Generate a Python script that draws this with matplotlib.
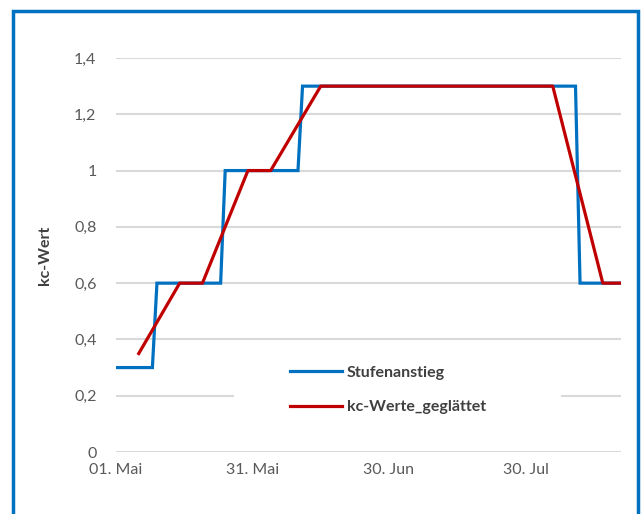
import matplotlib
matplotlib.use("Agg")
import matplotlib.pyplot as plt
from matplotlib.patches import Rectangle
import datetime as dt

# ---- data ----
step_dates = ["2023-05-01", "2023-05-09", "2023-05-10", "2023-05-24", "2023-05-25",
              "2023-06-10", "2023-06-11", "2023-08-10", "2023-08-11", "2023-08-20"]
step_values = [0.3, 0.3, 0.6, 0.6, 1.0, 1.0, 1.3, 1.3, 0.6, 0.6]

smooth_dates = ["2023-05-06", "2023-05-15", "2023-05-20", "2023-05-30", "2023-06-04",
                "2023-06-15", "2023-08-05", "2023-08-16", "2023-08-20"]
smooth_values = [0.35, 0.6, 0.6, 1.0, 1.0, 1.3, 1.3, 0.6, 0.6]

tick_dates = ["2023-05-01", "2023-05-31", "2023-06-30", "2023-07-30"]
tick_labels = ["01. Mai", "31. Mai", "30. Jun", "30. Jul"]
y_ticks = [0, 0.2, 0.4, 0.6, 0.8, 1.0, 1.2, 1.4]
y_labels = ["0", "0,2", "0,4", "0,6", "0,8", "1", "1,2", "1,4"]

series_names = ["Stufenanstieg", "kc-Werte_geglättet"]

def to_dt(lst):
    return [dt.datetime.strptime(s, "%Y-%m-%d") for s in lst]

plt.rcParams['font.family'] = ['Lato', 'DejaVu Sans']

W, H = 641, 514
fig = plt.figure(figsize=(W / 100, H / 100), dpi=100)
fig.patch.set_facecolor("white")

ax = fig.add_axes([116 / W, 1 - 452 / H, (621 - 116) / W, (452 - 58) / H])
ax.set_axisbelow(True)

l1, = ax.plot(to_dt(step_dates), step_values, color="#0070C0", lw=2.3,
              solid_joinstyle="miter", zorder=3)
l2, = ax.plot(to_dt(smooth_dates), smooth_values, color="#C00000", lw=2.3,
              solid_joinstyle="round", zorder=4)

ax.set_xlim(dt.datetime(2023, 5, 1), dt.datetime(2023, 8, 20))
ax.set_ylim(0, 1.4)
ax.set_yticks(y_ticks)
ax.set_yticklabels(y_labels)
ax.set_xticks(to_dt(tick_dates))
ax.set_xticklabels(tick_labels)
ax.yaxis.grid(True, color="#D9D9D9", lw=1.5)
ax.xaxis.grid(False)
for s in ax.spines.values():
    s.set_visible(False)
ax.tick_params(axis="both", length=0, colors="#595959", labelsize=11.5)
ax.tick_params(axis="y", pad=14)
ax.tick_params(axis="x", pad=8)
ax.set_ylabel("kc-Wert", fontsize=11.5, fontweight="bold", color="#404040", labelpad=16)

# white legend box covering gridline
box = Rectangle((234 / W, 1 - 422 / H), (561 - 234) / W, (422 - 350) / H,
                transform=fig.transFigure, facecolor="white", edgecolor="none", zorder=2)
ax.add_patch(box)

leg = fig.legend([l1, l2], series_names, loc="upper left",
                 bbox_to_anchor=(276 / W, 1 - 351 / H), frameon=False,
                 handlelength=3.25, handletextpad=0.3, labelspacing=1.3,
                 prop={"weight": "bold", "size": 11.5})
for t in leg.get_texts():
    t.set_color("#404040")

# blue outer frame (top, left, right)
frame = Rectangle((13 / W, -0.05), (638 - 13) / W, 1.05 - 11 / H,
                  transform=fig.transFigure, facecolor="none", edgecolor="#0070C0",
                  lw=2.5, zorder=10)
fig.patches.append(frame)

fig.savefig("out.png", dpi=100)
